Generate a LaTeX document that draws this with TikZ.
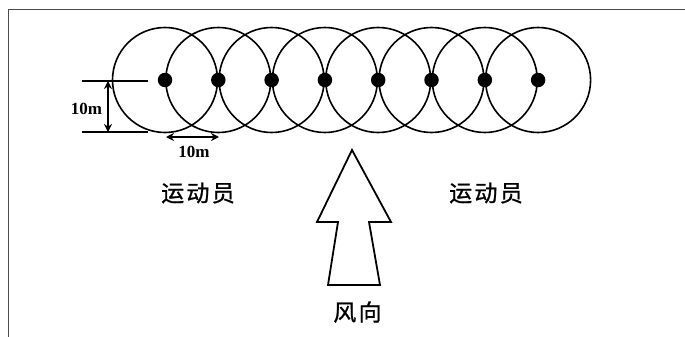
\documentclass[tikz,border=0pt]{standalone}
\usepackage{fontspec}
\setmainfont{Liberation Serif}
\newfontfamily\cjk[LetterSpace=10,FakeBold=1]{Noto Sans CJK SC}
\usetikzlibrary{positioning,arrows.meta,calc}
\tikzset{
	windCircle/.style={
		draw,
		circle,
		line width=1.6pt,
		minimum size=105pt,
		inner sep=0pt
	},
	windDot/.style={circle, fill=black, minimum size=14.5pt, inner sep=0pt},
	windRule/.style={line width=1.5pt},
	windDim/.style={{Stealth[length=8pt,width=8pt]}-{Stealth[length=8pt,width=8pt]}, line width=1.5pt},
	windLabel/.style={font=\fontsize{17}{19}\selectfont\bfseries, inner sep=0pt},
	windText/.style={font=\cjk\fontsize{23}{27}\selectfont, inner sep=0pt},
	windArrow/.style={draw, line width=1.8pt, line join=miter, fill=white},
	windFrame/.style={draw=black!70, line width=0.9pt}
}
\begin{document}
\begin{tikzpicture}[x=1pt, y=-1pt]
	\useasboundingbox (0,0) rectangle (685,337);

	% Frame
	\coordinate (fbl) at (8,337);
	\coordinate (ftl) at (8,9.5);
	\coordinate (ftr) at (685,9.5);
	\draw[windFrame] (fbl) -- (ftl) -- (ftr);

	% Athletes and ranges
	\foreach \i in {0,...,7} {
		\node[windCircle] (c\i) at ({165+53.3*\i},80) {};
	}
	\foreach \i in {0,...,7} {
		\node[windDot] (p\i) at (c\i) {};
	}

	% Vertical distance
	\coordinate (tl) at (82,81);
	\coordinate (tr) at (148,81);
	\coordinate (bl) at (82,132);
	\coordinate (br) at (148,132);
	\draw[windRule] (tl) -- (tr);
	\draw[windRule] (bl) -- (br);
	\coordinate (vt) at (108,81);
	\coordinate (vb) at (108,132);
	\draw[windDim] (vt) -- (vb);
	\node[windLabel] (vlab) at (86.5,108.5) {10m};

	% Horizontal distance
	\coordinate (hl) at (166,137);
	\coordinate (hr) at (219,137);
	\draw[windDim] (hl) -- (hr);
	\node[windLabel] (hlab) at (194,152) {10m};

	% Labels
	\node[windText] (left) at (198,193) {运动员};
	\node[windText] (right) at (486,193) {运动员};

	% Wind arrow
	\draw[windArrow] (352,150) -- (391,222) -- (369,222) -- (380,285)
		-- (328,285) -- (338,222) -- (317,222) -- cycle;
	\node[windText] (wind) at (357.5,312) {风向};

\end{tikzpicture}
\end{document}
